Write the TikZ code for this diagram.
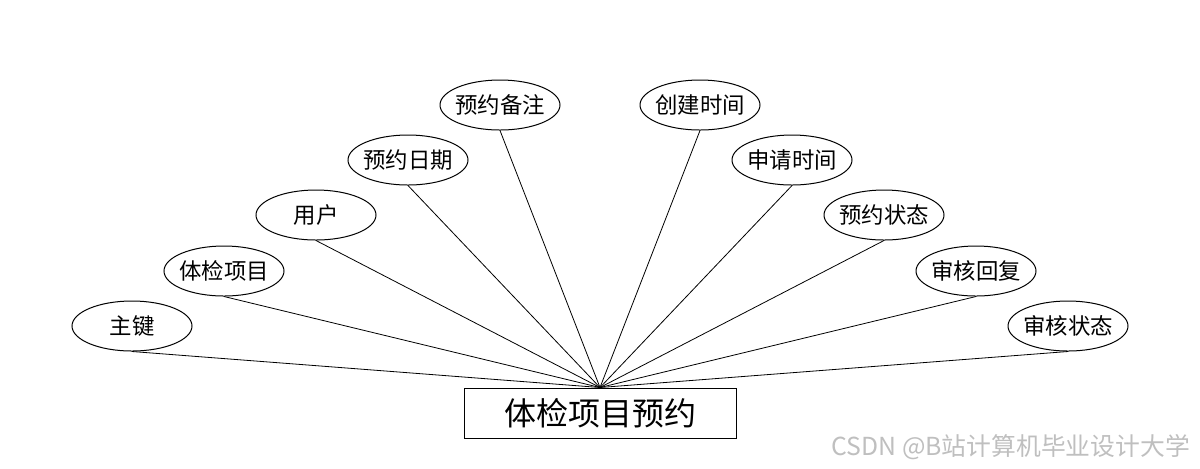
\documentclass[tikz,border=0pt]{standalone}
\usepackage{fontspec}
\newfontfamily\cjk{Noto Sans CJK SC}
\usetikzlibrary{shapes.geometric}
\tikzset{
  attr/.style={draw,ellipse,line width=0.5pt,minimum width=60pt,minimum height=25pt,
    inner xsep=-2pt,inner ysep=0pt,font=\cjk\fontsize{11.2}{13}\selectfont},
  entity/.style={draw,rectangle,line width=0.5pt,minimum width=136pt,minimum height=25pt,
    inner sep=0pt,font=\cjk\fontsize{16}{18}\selectfont},
  link/.style={line width=0.4pt}
}

\begin{document}
\begin{tikzpicture}[x=0.5pt,y=-0.5pt]
  \useasboundingbox (0,0) rectangle (1200,468);
  \node[entity] (e) at (600,413) {体检项目预约};
  \foreach \n/\x/\y/\lab in {1/132/326/主键,2/224/271/体检项目,3/316/215/用户,
      4/408/160/预约日期,5/500/105/预约备注,6/700/105/创建时间,7/792/160/申请时间,
      8/884/215/预约状态,9/976/271/审核回复,10/1068/326/审核状态} {
    \node[attr] (a\n) at (\x,\y) {\lab};
    \draw[link] (a\n.south) -- (e.north);
  }
  % watermark
  \node[anchor=east,text=black!25,font=\cjk\fontsize{12.4}{14}\selectfont] (wm) at (1197,447)
    {CSDN @B站计算机毕业设计大学};
\end{tikzpicture}
\end{document}
